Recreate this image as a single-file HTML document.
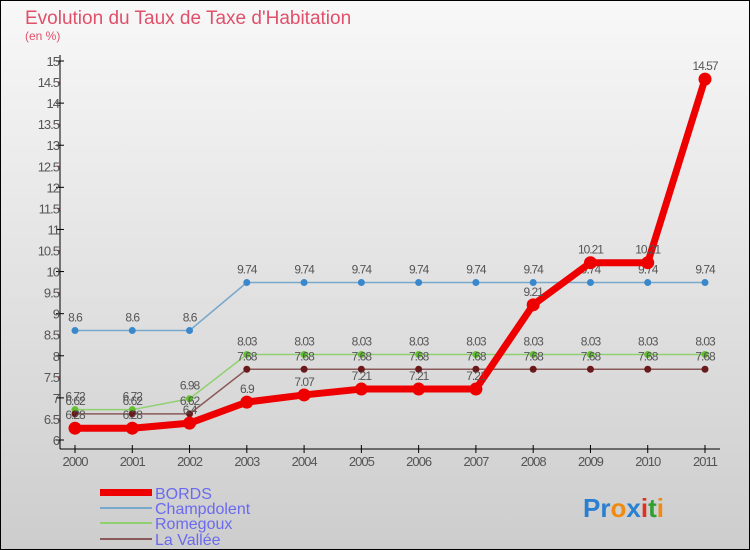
<!DOCTYPE html>
<html><head><meta charset="utf-8"><style>
body{margin:0;width:750px;height:550px;overflow:hidden;font-family:"Liberation Sans",sans-serif}
svg{display:block}
</style></head><body>
<svg id="c" width="750" height="550" xmlns="http://www.w3.org/2000/svg">
<defs><linearGradient id="bg" x1="0" y1="0" x2="0" y2="1"><stop offset="0" stop-color="#f8f8f8"/><stop offset="1" stop-color="#cdcdcd"/></linearGradient></defs>
<rect x="0.5" y="0.5" width="749" height="549" fill="url(#bg)" stroke="#000"/>
<text x="25" y="24" font-size="19" fill="#e0506a">Evolution du Taux de Taxe d'Habitation</text>
<text x="25" y="40" font-size="12" fill="#e0506a">(en %)</text>
<g id="axes"></g><g id="series"></g>
<g>
<rect x="100" y="489" width="52" height="7" fill="#e00"/>
<text x="155" y="499" font-size="16" fill="#6a6aee">BORDS</text>
<rect x="100" y="507" width="52" height="2" fill="#78a8cc"/>
<text x="155" y="514" font-size="16" fill="#6a6aee">Champdolent</text>
<rect x="100" y="522" width="52" height="2" fill="#90d070"/>
<text x="155" y="529" font-size="16" fill="#6a6aee">Romegoux</text>
<rect x="100" y="538" width="52" height="2" fill="#8a5a5a"/>
<text x="155" y="545" font-size="16" fill="#6a6aee">La Vallée</text>
</g>
<text x="583" y="517" font-size="26" font-weight="bold"><tspan fill="#2a80d0">Pr</tspan><tspan fill="#f08a10">o</tspan><tspan fill="#2a80d0">x</tspan><tspan fill="#e03020">i</tspan><tspan fill="#30a030">t</tspan><tspan fill="#f08a10">i</tspan></text>
</svg>
<script>
const years=["2000","2001","2002","2003","2004","2005","2006","2007","2008","2009","2010","2011"];
const yTicks=[6,6.5,7,7.5,8,8.5,9,9.5,10,10.5,11,11.5,12,12.5,13,13.5,14,14.5,15];
const bords=[6.28,6.28,6.4,6.9,7.07,7.21,7.21,7.21,9.21,10.21,10.21,14.57];
const champdolent=[8.6,8.6,8.6,9.74,9.74,9.74,9.74,9.74,9.74,9.74,9.74,9.74];
const romegoux=[6.72,6.72,6.98,8.03,8.03,8.03,8.03,8.03,8.03,8.03,8.03,8.03];
const laVallee=[6.62,6.62,6.62,7.68,7.68,7.68,7.68,7.68,7.68,7.68,7.68,7.68];
const NS="http://www.w3.org/2000/svg";
const x=i=>75+i*(630/11);
const y=v=>440-(v-6)*(379/9);
function mk(p,t,a){const e=document.createElementNS(NS,t);for(const k in a)e.setAttribute(k,a[k]);p.appendChild(e);return e;}
const ax=document.getElementById('axes');
let l=mk(ax,'line',{x1:60,y1:55,x2:60,y2:449,stroke:'#000'});


l=mk(ax,'line',{x1:60,y1:449,x2:720,y2:449,stroke:'#000'});


yTicks.forEach(v=>{
  const isInt=Number.isInteger(v);
  const t=mk(ax,'line',{x1:isInt?56:57,y1:y(v),x2:isInt?64:60,y2:y(v),stroke:isInt?'#000':'#e00'});
  
  
  const tx=mk(ax,'text',{x:59,y:y(v)+5,'font-size':13,fill:'#555','text-anchor':'end','letter-spacing':'-1'});
  tx.textContent=String(v);
  
  
});
years.forEach((yr,i)=>{
  const t=mk(ax,'line',{x1:x(i),y1:445,x2:x(i),y2:453,stroke:'#000'});
  
  
  const tx=mk(ax,'text',{x:x(i),y:466,'font-size':13,fill:'#555','text-anchor':'middle','letter-spacing':'-1'});
  tx.textContent=yr;
  
  
});
const sg=document.getElementById('series');
function series(data,name,color,w,r,dot){
  const g=mk(sg,'g',{});
  
  
  const p=mk(g,'polyline',{points:data.map((v,i)=>x(i)+','+y(v)).join(' '),fill:'none',stroke:color,'stroke-width':w,'stroke-linejoin':'round'});
  
  
  data.forEach((v,i)=>{
    const c=mk(g,'circle',{cx:x(i),cy:y(v),r:r,fill:dot});
    
    
    const t=mk(g,'text',{x:x(i),y:y(v)-9,'font-size':12,fill:'#555','text-anchor':'middle','letter-spacing':'-1'});
    t.textContent=String(v);
    
    
  });
}
series(champdolent,'champdolent','#78a8cc',1.5,3.5,'#3a88cc');
series(romegoux,'romegoux','#90d070',1.5,3.5,'#60c030');
series(laVallee,'la-vallee','#8a5a5a',1.5,3.5,'#6a1a1a');
series(bords,'bords','#e00',7,6.5,'#e00');
</script>
</body></html>
